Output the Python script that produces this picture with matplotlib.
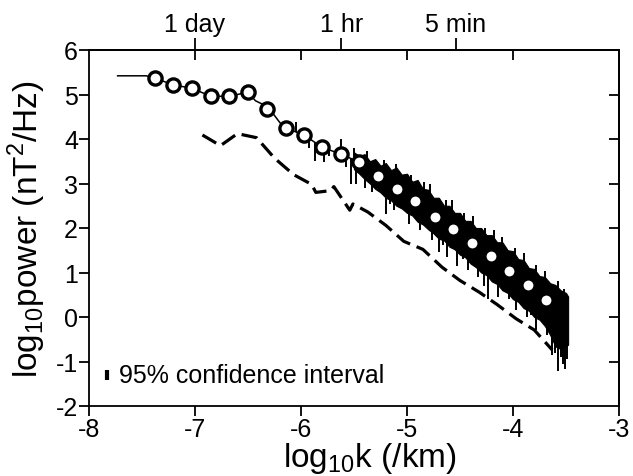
import numpy as np
import matplotlib
matplotlib.use("Agg")
import matplotlib.pyplot as plt

plt.rcParams['font.family'] = ['Liberation Sans', 'DejaVu Sans']
plt.rcParams['axes.unicode_minus'] = False
plt.rcParams['mathtext.fontset'] = 'custom'
plt.rcParams['mathtext.rm'] = 'Liberation Sans'

# band-averaged spectrum (open circles)
circ_k = [-7.38, -7.21, -7.03, -6.85, -6.68, -6.50, -6.32, -6.14, -5.97, -5.80, -5.62,
          -5.45, -5.27, -5.09, -4.92, -4.74, -4.57, -4.39, -4.21, -4.04, -3.86, -3.69]
circ_y = [5.37, 5.22, 5.14, 4.96, 4.96, 5.05, 4.67, 4.24, 4.09, 3.81, 3.66,
          3.48, 3.16, 2.88, 2.60, 2.25, 1.98, 1.66, 1.36, 1.04, 0.73, 0.39]

# raw spectrum, low-k part (thin line)
line_k = [-7.73, -7.46, -7.38, -7.21, -7.03, -6.85, -6.68, -6.50, -6.43, -6.37, -6.32,
          -6.26, -6.20, -6.14, -5.97, -5.80, -5.62, -5.50]
line_y = [5.42, 5.42, 5.37, 5.22, 5.14, 4.96, 4.96, 5.05, 4.86, 4.79, 4.67,
          4.56, 4.37, 4.24, 4.09, 3.81, 3.66, 3.53]

# raw spectrum, high-k part (envelope of the noisy band)
band_k = [-5.50, -5.45, -5.40, -5.35, -5.30, -5.25, -5.20, -5.15, -5.10, -5.05, -5.00,
          -4.95, -4.90, -4.85, -4.80, -4.75, -4.70, -4.65, -4.60, -4.55, -4.50, -4.45,
          -4.40, -4.35, -4.30, -4.25, -4.20, -4.15, -4.10, -4.05, -4.00, -3.95, -3.90,
          -3.85, -3.80, -3.75, -3.70, -3.65, -3.60, -3.55, -3.50, -3.48]
band_hi = [3.70, 3.62, 3.66, 3.50, 3.55, 3.40, 3.46, 3.30, 3.36, 3.20, 3.22,
           3.04, 3.08, 2.88, 2.86, 2.68, 2.68, 2.50, 2.50, 2.34, 2.34, 2.16,
           2.16, 2.00, 2.00, 1.84, 1.84, 1.68, 1.68, 1.50, 1.48, 1.30, 1.28,
           1.10, 1.08, 0.92, 0.90, 0.76, 0.72, 0.60, 0.54, 0.46]
band_lo = [3.32, 3.22, 3.10, 3.00, 2.88, 2.80, 2.68, 2.62, 2.50, 2.44, 2.34,
           2.28, 2.14, 2.08, 1.97, 1.88, 1.76, 1.72, 1.58, 1.52, 1.40, 1.34,
           1.20, 1.12, 1.00, 0.94, 0.80, 0.74, 0.60, 0.54, 0.40, 0.34, 0.20,
           0.14, 0.00, -0.06, -0.20, -0.40, -0.66, -0.72, -0.66, -0.62]

# downward spikes of the raw spectrum
down_k = [-5.92, -5.87, -5.78, -5.74, -5.66, -5.58, -5.53, -5.48, -5.43, -5.40, -5.36,
          -5.33, -5.27, -5.20, -5.16, -5.12, -5.06, -4.98, -4.93, -4.88, -4.82, -4.76,
          -4.70, -4.66, -4.62, -4.57, -4.53, -4.47, -4.42, -4.37, -4.33, -4.27, -4.24,
          -4.19, -4.14, -4.08, -4.04, -3.97, -3.92, -3.87, -3.83, -3.78, -3.73, -3.68,
          -3.63, -3.60, -3.58, -3.55, -3.53, -3.51, -3.49]
down_lo = [3.80, 3.51, 3.48, 3.62, 3.50, 3.37, 2.99, 2.98, 3.18, 2.90, 3.05,
           2.80, 2.88, 2.31, 2.55, 2.40, 2.45, 2.10, 2.30, 1.95, 2.05, 1.72,
           1.45, 1.62, 1.35, 1.55, 1.15, 1.30, 1.05, 1.20, 0.90, 0.70, 0.40,
           0.85, 0.45, 0.70, 0.40, 0.15, 0.30, 0.00, 0.05, -0.30, -0.12, -0.40,
           -0.85, -0.80, -1.21, -0.90, -1.05, -1.17, -0.95]
down_hi = [4.02, 3.92, 3.79, 3.74, 3.67, 3.62, 3.56, 3.51, 3.45, 3.39, 3.34,
           3.27, 3.16, 3.05, 2.99, 2.92, 2.83, 2.70, 2.61, 2.52, 2.41, 2.29,
           2.19, 2.13, 2.06, 1.98, 1.91, 1.80, 1.71, 1.62, 1.56, 1.46, 1.41,
           1.32, 1.23, 1.12, 1.04, 0.92, 0.83, 0.75, 0.67, 0.58, 0.49, 0.38,
           0.29, 0.22, 0.18, 0.12, 0.08, 0.04, 0.01]

# upward spikes of the raw spectrum
up_k = [-6.05, -5.62, -5.50, -5.38, -5.22, -5.10, -4.96, -4.84, -4.78, -4.63, -4.58,
        -4.46, -4.38, -4.26, -4.18, -4.10, -3.98, -3.90, -3.78, -3.70, -3.58, -3.52]
up_lo = [4.15, 3.66, 3.53, 3.33, 3.08, 2.89, 2.66, 2.45, 2.33, 2.08, 2.00,
         1.79, 1.64, 1.45, 1.30, 1.15, 0.93, 0.80, 0.58, 0.42, 0.18, 0.06]
up_hi = [4.38, 4.00, 3.80, 3.74, 3.52, 3.44, 3.20, 3.04, 2.98, 2.64, 2.62,
         2.34, 2.28, 2.00, 1.96, 1.80, 1.56, 1.44, 1.16, 1.04, 0.80, 0.62]

# dashed spectrum
dash_k = [-6.93, -6.76, -6.60, -6.42, -6.25, -6.07, -5.90, -5.86, -5.72, -5.69, -5.54,
          -5.51, -5.37, -5.20, -5.03, -4.85, -4.67, -4.50, -4.32, -4.15, -3.97, -3.80, -3.63]
dash_y = [4.09, 3.85, 4.12, 4.03, 3.57, 3.20, 2.98, 2.80, 2.84, 2.93, 2.40,
          2.54, 2.36, 2.06, 1.70, 1.52, 1.12, 0.82, 0.56, 0.28, -0.04, -0.29, -0.74]

# 95% confidence interval bar
ci_k = -7.83
ci_lo, ci_hi = -1.42, -1.18

time_ticks = [-7.0, -5.62, -4.54]
time_labels = ['1 day', '1 hr', '5 min']

fig = plt.figure(figsize=(6.33, 4.77), dpi=100)
ax = fig.add_axes([89 / 633, 1 - 407 / 477, 530 / 633, 356 / 477])

ax.plot(line_k, line_y, color='black', lw=1.1, zorder=2)
ax.fill_between(band_k, band_lo, band_hi, color='black', lw=0.8, zorder=2)
ax.vlines(down_k, down_lo, down_hi, color='black', lw=1.4, zorder=2)
ax.vlines(up_k, up_lo, up_hi, color='black', lw=1.4, zorder=2)
ax.plot(dash_k, dash_y, color='black', lw=2.3, linestyle=(0, (5, 2.2)), zorder=2)
ax.plot(circ_k, circ_y, 'o', ms=9.5, mfc='white', mec='black', mew=2.4, zorder=3)

ax.vlines([ci_k], [ci_lo], [ci_hi], color='black', lw=3)
ax.text(-7.72, -1.30, '95% confidence interval', fontsize=18, va='center', ha='left')

ax.set_xlim(-8, -3)
ax.set_ylim(-2, 6)
ax.set_xticks([-8, -7, -6, -5, -4, -3])
ax.set_yticks([-2, -1, 0, 1, 2, 3, 4, 5, 6])
ax.tick_params(direction='out', length=7, width=1.3, labelsize=18, pad=1)
for s in ax.spines.values():
    s.set_linewidth(1.3)

top = ax.secondary_xaxis('top')
top.set_xticks([-7, -6, -5, -4])
top.tick_params(direction='in', length=7, width=1.3, labeltop=False)
top.spines['top'].set_linewidth(1.3)

right = ax.secondary_yaxis('right')
right.set_yticks([-1, 0, 1, 2, 3, 4, 5])
right.tick_params(direction='in', length=7, width=1.3, labelright=False)
right.spines['right'].set_linewidth(1.3)

tt = ax.secondary_xaxis('top')
tt.set_xticks(time_ticks, labels=time_labels)
tt.tick_params(direction='out', length=9, width=1.3, labelsize=18, pad=1)
tt.spines['top'].set_linewidth(1.3)

ax.set_xlabel(r'log$_{10}$k (/km)', fontsize=24)
ax.set_ylabel(r'log$_{10}$power (nT$^2$/Hz)', fontsize=24)
ax.xaxis.set_label_coords(0.53, -0.095)
ax.yaxis.set_label_coords(-0.078, 0.5)

fig.savefig('out.png', dpi=100)
